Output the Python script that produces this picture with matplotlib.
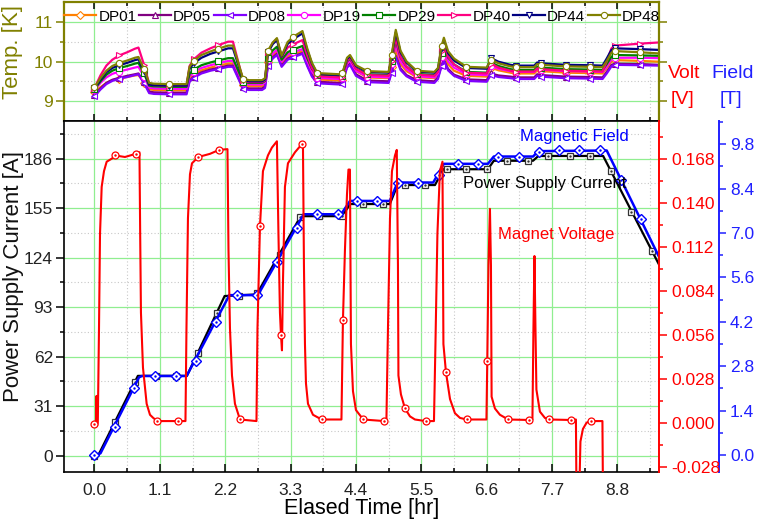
import numpy as np
import matplotlib
matplotlib.use("Agg")
import matplotlib.pyplot as plt
from matplotlib.ticker import FixedLocator, FormatStrFormatter

plt.rcParams['font.family'] = ['Liberation Sans', 'DejaVu Sans']

# ---- temperatures (top panel) ----
t_temp = [0.00, 0.10, 0.20, 0.30, 0.417, 0.55, 0.68, 0.74, 0.834, 0.92,
          1.00, 1.25, 1.55, 1.60, 1.67, 1.80, 1.95, 2.08, 2.25, 2.33,
          2.42, 2.50, 2.60, 2.82, 2.87, 2.92, 3.00, 3.07, 3.15, 3.25,
          3.34, 3.50, 3.58, 3.66, 3.75, 4.12, 4.17, 4.25, 4.30, 4.40,
          4.59, 4.95, 5.00, 5.07, 5.15, 5.25, 5.42, 5.72, 5.78, 5.84,
          5.88, 5.95, 6.05, 6.26, 6.60, 6.67, 6.80, 7.00, 7.09, 7.40,
          7.45, 7.51, 7.93, 8.34, 8.55, 8.62, 8.70, 8.76, 9.18, 9.50]

dp01 = [9.22, 9.35, 9.46, 9.53, 9.57, 9.61, 9.65, 9.66, 9.47, 9.30,
        9.28, 9.27, 9.27, 9.58, 9.68, 9.78, 9.85, 9.90, 9.95, 9.95,
        9.66, 9.41, 9.38, 9.38, 9.43, 9.99, 10.16, 10.25, 9.95, 10.13,
        10.19, 10.27, 9.97, 9.71, 9.55, 9.52, 9.54, 9.95, 10.02, 9.76,
        9.60, 9.58, 9.87, 10.30, 9.94, 9.76, 9.61, 9.58, 9.68, 10.05,
        10.20, 9.94, 9.77, 9.64, 9.62, 9.85, 9.78, 9.72, 9.70, 9.70,
        9.78, 9.76, 9.72, 9.71, 9.70, 9.84, 10.01, 10.04, 10.02, 10.00]
dp05 = [9.16, 9.32, 9.46, 9.54, 9.59, 9.64, 9.68, 9.70, 9.48, 9.24,
        9.22, 9.21, 9.21, 9.52, 9.62, 9.73, 9.80, 9.84, 9.90, 9.90,
        9.61, 9.35, 9.32, 9.32, 9.37, 9.94, 10.11, 10.20, 9.90, 10.08,
        10.14, 10.22, 9.92, 9.65, 9.49, 9.46, 9.48, 9.88, 9.95, 9.68,
        9.52, 9.50, 9.76, 10.15, 9.83, 9.66, 9.53, 9.50, 9.60, 9.91,
        10.05, 9.82, 9.67, 9.55, 9.53, 9.70, 9.65, 9.62, 9.60, 9.60,
        9.68, 9.66, 9.62, 9.61, 9.60, 9.74, 9.92, 9.95, 9.94, 9.92]
dp08 = [9.12, 9.29, 9.43, 9.51, 9.57, 9.61, 9.66, 9.68, 9.45, 9.20,
        9.18, 9.17, 9.17, 9.49, 9.59, 9.70, 9.77, 9.81, 9.87, 9.87,
        9.57, 9.31, 9.28, 9.28, 9.33, 9.90, 10.08, 10.17, 9.87, 10.05,
        10.11, 10.20, 9.89, 9.62, 9.45, 9.42, 9.44, 9.85, 9.92, 9.64,
        9.48, 9.46, 9.72, 10.12, 9.79, 9.63, 9.49, 9.46, 9.56, 9.88,
        10.02, 9.78, 9.64, 9.51, 9.49, 9.66, 9.61, 9.58, 9.56, 9.56,
        9.64, 9.62, 9.58, 9.57, 9.56, 9.70, 9.88, 9.92, 9.91, 9.90]
dp19 = [9.27, 9.46, 9.60, 9.69, 9.75, 9.80, 9.85, 9.87, 9.62, 9.34,
        9.32, 9.31, 9.31, 9.63, 9.74, 9.84, 9.91, 9.96, 10.02, 10.02,
        9.72, 9.45, 9.42, 9.42, 9.47, 10.04, 10.21, 10.30, 10.00, 10.18,
        10.24, 10.32, 10.02, 9.75, 9.59, 9.56, 9.58, 9.95, 10.02, 9.77,
        9.62, 9.60, 9.93, 10.42, 10.01, 9.81, 9.63, 9.60, 9.70, 10.13,
        10.30, 10.01, 9.85, 9.68, 9.66, 9.90, 9.82, 9.76, 9.74, 9.74,
        9.82, 9.80, 9.76, 9.75, 9.74, 9.88, 10.06, 10.10, 10.10, 10.09]
dp29 = [9.30, 9.50, 9.67, 9.77, 9.84, 9.89, 9.95, 9.97, 9.70, 9.39,
        9.37, 9.36, 9.36, 9.69, 9.80, 9.91, 9.98, 10.03, 10.09, 10.09,
        9.77, 9.49, 9.46, 9.46, 9.51, 10.10, 10.29, 10.38, 10.05, 10.24,
        10.31, 10.40, 10.09, 9.82, 9.65, 9.62, 9.64, 10.01, 10.08, 9.83,
        9.68, 9.66, 10.02, 10.55, 10.11, 9.88, 9.69, 9.66, 9.76, 10.23,
        10.42, 10.11, 9.93, 9.74, 9.72, 9.98, 9.89, 9.81, 9.79, 9.79,
        9.87, 9.85, 9.81, 9.80, 9.79, 9.94, 10.13, 10.17, 10.16, 10.15]
dp40 = [9.33, 9.65, 9.90, 10.05, 10.16, 10.24, 10.33, 10.36, 9.92, 9.43,
        9.40, 9.39, 9.39, 9.89, 10.06, 10.23, 10.34, 10.42, 10.51, 10.51,
        9.99, 9.53, 9.48, 9.48, 9.53, 10.25, 10.47, 10.58, 10.12, 10.36,
        10.44, 10.55, 10.17, 9.84, 9.63, 9.60, 9.62, 10.03, 10.10, 9.82,
        9.66, 9.64, 10.02, 10.60, 10.12, 9.88, 9.67, 9.64, 9.74, 10.27,
        10.48, 10.13, 9.93, 9.72, 9.70, 9.95, 9.85, 9.77, 9.75, 9.75,
        9.83, 9.81, 9.77, 9.76, 9.75, 10.01, 10.34, 10.41, 10.46, 10.49]
dp44 = [9.32, 9.54, 9.73, 9.84, 9.91, 9.97, 10.04, 10.06, 9.76, 9.42,
        9.40, 9.39, 9.39, 9.82, 9.96, 10.10, 10.20, 10.26, 10.34, 10.34,
        9.92, 9.54, 9.50, 9.50, 9.55, 10.24, 10.45, 10.55, 10.13, 10.45,
        10.57, 10.72, 10.30, 9.95, 9.69, 9.66, 9.68, 10.07, 10.14, 9.89,
        9.74, 9.72, 10.13, 10.75, 10.24, 9.98, 9.75, 9.72, 9.82, 10.34,
        10.55, 10.22, 10.03, 9.84, 9.82, 10.09, 10.00, 9.92, 9.90, 9.90,
        9.98, 9.96, 9.92, 9.91, 9.90, 10.08, 10.30, 10.34, 10.32, 10.30]
dp48 = [9.35, 9.58, 9.77, 9.89, 9.97, 10.03, 10.10, 10.12, 9.81, 9.46,
        9.44, 9.43, 9.43, 9.87, 10.02, 10.17, 10.26, 10.33, 10.41, 10.41,
        9.97, 9.57, 9.53, 9.53, 9.58, 10.28, 10.49, 10.60, 10.15, 10.50,
        10.63, 10.78, 10.34, 9.97, 9.71, 9.68, 9.70, 10.10, 10.17, 9.91,
        9.76, 9.74, 10.17, 10.81, 10.28, 10.01, 9.77, 9.74, 9.84, 10.39,
        10.61, 10.27, 10.08, 9.87, 9.85, 10.05, 9.96, 9.88, 9.86, 9.86,
        9.94, 9.92, 9.88, 9.87, 9.86, 10.02, 10.23, 10.27, 10.24, 10.21]

temp_names = ['DP01', 'DP05', 'DP08', 'DP19', 'DP29', 'DP40', 'DP44', 'DP48']
temp_series = [dp01, dp05, dp08, dp19, dp29, dp40, dp44, dp48]
temp_colors = ['#FF8000', '#800080', '#8000FF', '#FF00FF', '#008000',
               '#FF0080', '#000080', '#808000']
temp_markers = ['D', '^', '<', 'o', 's', '>', 'v', 'o']

# ---- power supply current [A] ----
cur_t = [0.0, 0.06, 0.73, 1.555, 2.19, 2.73, 3.47, 4.17, 4.30, 4.97, 5.10,
         5.73, 5.87, 6.62, 6.72, 7.38, 7.47, 8.56, 9.50]
cur_a = [0, 0, 50, 50, 100, 101, 150, 150, 157.6, 157.6, 169.5,
         169.5, 179.4, 179.4, 184.7, 184.7, 187.7, 187.7, 119.7]
cur_mk_t = [0.0, 0.345, 0.68, 1.04, 1.37, 1.74, 2.06, 2.43, 2.73, 3.12, 3.46,
            3.77, 4.16, 4.52, 4.86, 5.22, 5.56, 5.93, 6.25, 6.60, 6.94, 7.30,
            7.63, 8.00, 8.34, 8.69, 9.03, 9.38]
cur_mk_a = [0, 21.3, 46.3, 50, 50, 64.5, 89.6, 100, 101.7, 125.7, 149.7,
            150, 150, 157.6, 157.6, 169.5, 169.5, 179.4, 179.4, 179.4, 184.7,
            184.7, 187.7, 187.7, 187.7, 178.3, 152.8, 128.4]

# ---- magnetic field [T] ----
fld_t = [0.0, 0.10, 0.75, 0.80, 1.55, 2.27, 2.75, 3.52, 4.15, 4.30, 4.97,
         5.10, 5.70, 5.88, 6.62, 6.72, 7.38, 7.47, 8.62, 9.50]
fld_b = [0.0, 0.05, 2.45, 2.49, 2.49, 5.04, 5.04, 7.59, 7.59, 8.01, 8.01,
         8.59, 8.59, 9.18, 9.18, 9.41, 9.41, 9.58, 9.60, 6.25]
fld_mk_t = [0, 0.34, 0.67, 1.02, 1.37, 1.71, 2.04, 2.39, 2.73, 3.07, 3.40,
            3.74, 4.09, 4.42, 4.76, 5.11, 5.45, 5.79, 6.12, 6.46, 6.79, 7.15,
            7.48, 7.82, 8.16, 8.51, 8.86, 9.19]
fld_mk_b = [0, 0.87, 2.10, 2.49, 2.49, 2.97, 4.20, 5.04, 5.04, 6.09, 7.15,
            7.59, 7.59, 8.01, 8.01, 8.59, 8.59, 8.83, 9.18, 9.18, 9.41, 9.41,
            9.56, 9.60, 9.60, 9.62, 8.66, 7.43]

# ---- magnet voltage [V] ----
volt_t = [0.0, 0.017, 0.025, 0.034, 0.042, 0.056, 0.076, 0.093, 0.121, 0.160,
          0.205, 0.294, 0.345, 0.513, 0.693, 0.757, 0.769, 0.782, 0.816, 0.878,
          0.934, 0.989, 1.057, 1.400, 1.531, 1.548, 1.573, 1.607, 1.641, 1.747,
          1.943, 2.095, 2.238, 2.255, 2.280, 2.314, 2.364, 2.448, 2.726, 2.743,
          2.785, 2.835, 2.919, 2.986, 3.070, 3.096, 3.121, 3.138, 3.155, 3.172,
          3.205, 3.256, 3.374, 3.486, 3.508, 3.525, 3.542, 3.559, 3.593, 3.677,
          3.823, 4.156, 4.181, 4.215, 4.249, 4.274, 4.299, 4.316, 4.350, 4.400,
          4.523, 4.876, 4.913, 4.939, 4.973, 5.006, 5.057, 5.087, 5.107, 5.115,
          5.157, 5.225, 5.309, 5.393, 5.573, 5.713, 5.738, 5.771, 5.813, 5.856,
          5.872, 5.915, 5.983, 6.066, 6.151, 6.263, 6.596, 6.610, 6.630, 6.655,
          6.672, 6.683, 6.739, 6.823, 6.963, 7.311, 7.370, 7.387, 7.404, 7.421,
          7.437, 7.496, 7.580, 7.653, 8.013, 8.102, 8.110, 8.161, 8.178, 8.220,
          8.282, 8.349, 8.548, 8.556]
volt_v = [-0.001, -0.001, 0.0, 0.017, -0.002, 0.0, 0.06, 0.12, 0.150, 0.160,
          0.166, 0.168, 0.170, 0.169, 0.171, 0.172, 0.12, 0.07, 0.035, 0.012,
          0.005, 0.003, 0.001, 0.001, 0.001, 0.06, 0.13, 0.158, 0.165, 0.169,
          0.171, 0.1735, 0.174, 0.11, 0.06, 0.03, 0.012, 0.002, 0.001, 0.06,
          0.125, 0.160, 0.170, 0.175, 0.179, 0.12, 0.07, 0.056, 0.046, 0.09,
          0.150, 0.165, 0.172, 0.177, 0.178, 0.10, 0.05, 0.025, 0.012, 0.005,
          0.002, 0.002, 0.065, 0.11, 0.145, 0.161, 0.161, 0.05, 0.02, 0.008,
          0.002, 0.001, 0.002, 0.06, 0.13, 0.160, 0.170, 0.1735, 0.10, 0.03,
          0.018, 0.009, 0.004, 0.002, 0.001, 0.001, 0.05, 0.12, 0.160, 0.166,
          0.05, 0.032, 0.015, 0.006, 0.003, 0.002, 0.002, 0.039, 0.10, 0.136,
          0.10, 0.0165, 0.009, 0.005, 0.002, 0.0017, 0.002, 0.06, 0.106, 0.06,
          0.021, 0.007, 0.003, 0.002, 0.0017, 0.002, -0.04, -0.04, -0.012, -0.004,
          0.000, 0.001, 0.001, -0.04]
volt_mk_t = [0.0, 0.345, 0.693, 1.057, 1.40, 1.747, 2.095, 2.448, 2.785, 3.138,
             3.486, 3.823, 4.181, 4.523, 4.876, 5.225, 5.573, 5.915, 6.263, 6.61,
             6.963, 7.311, 7.653, 8.013, 8.349]
volt_mk_v = [-0.001, 0.170, 0.171, 0.001, 0.001, 0.169, 0.1735, 0.002, 0.125,
             0.056, 0.177, 0.002, 0.065, 0.002, 0.001, 0.009, 0.001, 0.032,
             0.002, 0.039, 0.002, 0.0017, 0.002, 0.0017, 0.001]

W, H = 758, 524
fig = plt.figure(figsize=(W / 100, H / 100), dpi=100)
L, R = 64, 659
ax_t = fig.add_axes([L / W, 1 - 121 / H, (R - L) / W, 119 / H])
ax = fig.add_axes([L / W, 1 - 472 / H, (R - L) / W, 351 / H])

xmaj = [1.1 * i for i in range(9)]
xmin = [0.55 + 1.1 * i for i in range(9)]
grid_major = dict(color='#90EE90', lw=0.9)
grid_minor = dict(color='#C8C8C8', lw=0.8, linestyle=(0, (1, 2)))
olive = '#808000'

# ---------------- top panel ----------------
tt = np.array(t_temp)
mk_idx = [int(np.argmin(np.abs(tt - k * 0.417))) for k in range(23)]
for name, vals, c, m in zip(temp_names, temp_series, temp_colors, temp_markers):
    ax_t.plot(t_temp, vals, color=c, lw=1.6, marker=m, ms=4.5, mfc='white',
              mec=c, mew=0.8, markevery=mk_idx, label=name)
ax_t.set_xlim(-0.513, 9.5)
ax_t.set_ylim(8.49, 11.52)
ax_t.xaxis.set_major_locator(FixedLocator(xmaj))
ax_t.xaxis.set_minor_locator(FixedLocator(xmin))
ax_t.yaxis.set_major_locator(FixedLocator([9, 10, 11]))
ax_t.yaxis.set_minor_locator(FixedLocator([9.5, 10.5]))
ax_t.set_axisbelow(True)
ax_t.grid(True, which='major', **grid_major)
ax_t.grid(True, which='minor', **grid_minor)
ax_t.tick_params(axis='x', which='both', direction='in', top=True, bottom=True,
                 labelbottom=False, color='black', width=1.1)
ax_t.tick_params(axis='x', which='major', length=5)
ax_t.tick_params(axis='x', which='minor', length=3)
ax_t.tick_params(axis='y', which='both', direction='out', colors=olive,
                 labelsize=12.5, width=1.1, pad=2)
ax_t.tick_params(axis='y', which='major', length=6)
ax_t.tick_params(axis='y', which='minor', length=3)
ax_t.tick_params(axis='y', which='both', right=True, labelright=False)
for sp in ['left', 'right', 'top']:
    ax_t.spines[sp].set_color(olive)
    ax_t.spines[sp].set_linewidth(1.6)
ax_t.spines['bottom'].set_color('black')
ax_t.spines['bottom'].set_linewidth(1.2)
ax_t.legend(ncol=8, loc='upper left', bbox_to_anchor=(0.0, 0.935), frameon=False,
            fontsize=11, handlelength=2.1, handletextpad=0.15,
            columnspacing=0.15, borderaxespad=0, borderpad=0)
fig.text(13 / W, 1 - 52 / H, 'Temp. [K]', rotation=90, color=olive,
         fontsize=16, ha='center', va='center')

# ---------------- bottom panel ----------------
ax.plot(cur_t, cur_a, color='black', lw=1.6, zorder=3)
ax.plot(cur_mk_t, cur_mk_a, ls='none', marker='s', ms=4.5, mfc='white',
        mec='#333333', mew=0.9, zorder=4)
ax.plot(cur_mk_t, cur_mk_a, ls='none', marker='.', ms=1.5, color='#333333', zorder=5)
ax.set_xlim(-0.513, 9.5)
ax.set_ylim(-10.2, 209.6)
ax.xaxis.set_major_locator(FixedLocator(xmaj))
ax.xaxis.set_minor_locator(FixedLocator(xmin))
ax.xaxis.set_major_formatter(FormatStrFormatter('%.1f'))
ax.yaxis.set_major_locator(FixedLocator([31 * i for i in range(7)]))
ax.yaxis.set_minor_locator(FixedLocator([15.5 + 31 * i for i in range(7)]))
ax.set_axisbelow(True)
ax.grid(True, which='major', **grid_major)
ax.grid(True, which='minor', **grid_minor)
ax.tick_params(axis='x', which='both', direction='in', labelsize=12.5,
               width=1.1, pad=8, labelcolor='#222222')
ax.tick_params(axis='x', which='major', length=6)
ax.tick_params(axis='x', which='minor', length=3)
ax.tick_params(axis='y', which='both', direction='out', labelsize=12.5,
               width=1.1, pad=2, labelcolor='#222222')
ax.tick_params(axis='y', which='major', length=6)
ax.tick_params(axis='y', which='minor', length=3)
ax.spines['right'].set_visible(False)
for sp in ['left', 'bottom', 'top']:
    ax.spines[sp].set_linewidth(1.2)
ax.set_xlabel('Elased Time [hr]', fontsize=15.5, labelpad=0)
fig.text(14 / W, 1 - 277 / H, 'Power Supply Current [A]', rotation=90,
         fontsize=16, ha='center', va='center', color='#111111')

# field axis (blue, offset)
ax_b = ax.twinx()
ax_b.plot(fld_t, fld_b, color='#0000FF', lw=1.8, zorder=3)
ax_b.plot(fld_mk_t, fld_mk_b, ls='none', marker='D', ms=4.8, mfc='white',
          mec='#0000FF', mew=1.0, zorder=4)
ax_b.plot(fld_mk_t, fld_mk_b, ls='none', marker='.', ms=1.5, color='#0000FF', zorder=5)
ax_b.set_ylim(-0.536, 10.53)
ax_b.spines['right'].set_position(('axes', (719 - L) / (R - L)))
for sp in ['left', 'top', 'bottom']:
    ax_b.spines[sp].set_visible(False)
ax_b.spines['right'].set_color('#2020FF')
ax_b.spines['right'].set_linewidth(1.4)
ax_b.yaxis.set_major_locator(FixedLocator([1.4 * i for i in range(8)]))
ax_b.yaxis.set_minor_locator(FixedLocator([0.7 + 1.4 * i for i in range(8)]))
ax_b.yaxis.set_major_formatter(FormatStrFormatter('%.1f'))
ax_b.tick_params(axis='y', which='both', direction='out', colors='#2020FF',
                 labelsize=12.5, width=1.1, pad=3)
ax_b.tick_params(axis='y', which='major', length=5)
ax_b.tick_params(axis='y', which='minor', length=3)

# voltage axis (red)
ax_r = ax.twinx()
ax_r.plot(volt_t, volt_v, color='#FF0000', lw=1.5, zorder=3)
ax_r.plot(volt_mk_t, volt_mk_v, ls='none', marker='o', ms=5, mfc='white',
          mec='#FF0000', mew=0.9, zorder=4)
ax_r.plot(volt_mk_t, volt_mk_v, ls='none', marker='.', ms=1.5, color='#FF0000', zorder=5)
ax_r.set_ylim(-0.0314, 0.1919)
for sp in ['left', 'top', 'bottom']:
    ax_r.spines[sp].set_visible(False)
ax_r.spines['right'].set_color('#FF0000')
ax_r.spines['right'].set_linewidth(1.4)
ax_r.yaxis.set_major_locator(FixedLocator([-0.028 + 0.028 * i for i in range(8)]))
ax_r.yaxis.set_minor_locator(FixedLocator([-0.014 + 0.028 * i for i in range(8)]))
ax_r.yaxis.set_major_formatter(FormatStrFormatter('%.3f'))
ax_r.tick_params(axis='y', which='both', direction='out', colors='#FF0000',
                 labelsize=12.5, width=1.1, pad=3)
ax_r.tick_params(axis='y', which='major', length=6)
ax_r.tick_params(axis='y', which='minor', length=3)

# in-plot labels
fig.text(520 / W, 1 - 136 / H, 'Magnetic Field', color='#0000FF', fontsize=12,
         ha='left', va='center')
fig.text(463 / W, 1 - 184 / H, 'Power Supply Current', color='black',
         fontsize=12, ha='left', va='center')
fig.text(498 / W, 1 - 235 / H, 'Magnet Voltage', color='#FF0000', fontsize=12,
         ha='left', va='center')

# right axis titles
fig.text(684 / W, 1 - 73 / H, 'Volt', color='#FF0000', fontsize=14,
         ha='center', va='center')
fig.text(733 / W, 1 - 73 / H, 'Field', color='#2020FF', fontsize=14,
         ha='center', va='center')
fig.text(683 / W, 1 - 100 / H, '[V]', color='#FF0000', fontsize=14,
         ha='center', va='center')
fig.text(731 / W, 1 - 100 / H, '[T]', color='#2020FF', fontsize=14,
         ha='center', va='center')

fig.savefig('out.png', dpi=100)
